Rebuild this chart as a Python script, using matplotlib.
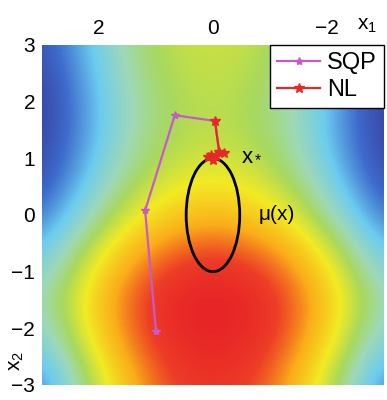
import matplotlib
matplotlib.use("Agg")
import matplotlib.pyplot as plt
from matplotlib.colors import LinearSegmentedColormap
from matplotlib.patches import Ellipse

plt.rcParams['font.family'] = ['Liberation Sans', 'DejaVu Sans']
plt.rcParams['mathtext.fontset'] = 'custom'
plt.rcParams['mathtext.rm'] = 'Liberation Sans'
plt.rcParams['mathtext.it'] = 'Liberation Sans:italic'

# background levels (rows: x2 from 3 to -3, cols: x1 from 3 to -3)
grid_x1 = [3, 2.25, 1.5, 0.75, 0, -0.75, -1.5, -2.25, -3]
grid_x2 = [3, 2.25, 1.5, 0.75, 0, -0.75, -1.5, -2.25, -3]
field = [
    [0.05, 0.25, 0.46, 0.56, 0.58, 0.56, 0.46, 0.25, 0.05],
    [0.00, 0.20, 0.42, 0.53, 0.56, 0.53, 0.42, 0.20, 0.00],
    [0.00, 0.19, 0.41, 0.52, 0.55, 0.52, 0.41, 0.19, 0.00],
    [0.03, 0.24, 0.47, 0.58, 0.62, 0.58, 0.47, 0.24, 0.03],
    [0.12, 0.38, 0.60, 0.71, 0.75, 0.71, 0.60, 0.38, 0.12],
    [0.30, 0.57, 0.77, 0.88, 0.92, 0.88, 0.77, 0.57, 0.30],
    [0.42, 0.67, 0.86, 0.97, 1.00, 0.97, 0.86, 0.67, 0.42],
    [0.33, 0.61, 0.83, 0.95, 0.98, 0.95, 0.83, 0.61, 0.33],
    [0.14, 0.48, 0.74, 0.89, 0.93, 0.89, 0.74, 0.48, 0.14],
]

# optimisation paths
sqp_x1 = [1.00, 1.19, 0.67, -0.035, -0.11]
sqp_x2 = [-2.05, 0.08, 1.76, 1.66, 1.11]
nl_x1 = [-0.035, -0.11, -0.19, -0.05, 0.04, 0.09, 0.0]
nl_x2 = [1.66, 1.11, 1.09, 1.04, 1.06, 1.02, 0.97]

# mu(x) ellipse
ell_center = (0.0, 0.0)
ell_width = 0.94
ell_height = 2.0

x1_ticks = [2, 0, -2]
x2_ticks = [3, 2, 1, 0, -1, -2, -3]

cmap = LinearSegmentedColormap.from_list("bg", [
    (0.00, (0.22, 0.25, 0.62)),
    (0.12, (0.24, 0.42, 0.80)),
    (0.28, (0.42, 0.80, 0.94)),
    (0.42, (0.62, 0.85, 0.72)),
    (0.52, (0.66, 0.85, 0.36)),
    (0.64, (0.95, 0.92, 0.14)),
    (0.78, (0.98, 0.68, 0.10)),
    (0.90, (0.93, 0.24, 0.15)),
    (1.00, (0.90, 0.12, 0.15)),
])

fig = plt.figure(figsize=(3.87, 4.0), dpi=100)
ax = fig.add_axes([0.1085, 0.0375, 0.8835, 0.85])

step = abs(grid_x1[1] - grid_x1[0]) / 2
ax.imshow(field, cmap=cmap, vmin=0, vmax=1, interpolation='bicubic', aspect='auto',
          extent=(grid_x1[0] + step, grid_x1[-1] - step, grid_x2[-1] - step, grid_x2[0] + step),
          origin='upper')

sqp, = ax.plot(sqp_x1, sqp_x2, color='#C85AC8', lw=1.6, marker='*', ms=6, label='SQP')
nl, = ax.plot(nl_x1, nl_x2, color='#E62828', lw=1.6, marker='*', ms=7, label='NL')

ax.add_patch(Ellipse(ell_center, ell_width, ell_height, fill=False, ec='black', lw=2))

ax.text(-0.50, 1.07, r'$\mathregular{x_*}$', fontsize=16, va='center', ha='left')
ax.text(-0.80, 0.0, r'μ(x)', fontsize=15, va='center', ha='left')

ax.set_xlim(3, -3)
ax.set_ylim(-3, 3)
ax.set_xticks(x1_ticks)
ax.set_yticks(x2_ticks)
ax.xaxis.tick_top()
ax.tick_params(labelsize=15, length=0, pad=5)
for s in ax.spines.values():
    s.set_visible(False)

ax.text(0.95, 1.056, r'$\mathregular{x_1}$', transform=ax.transAxes, fontsize=15,
        ha='center', va='center')
ax.text(-0.075, 0.07, r'$\mathregular{x_2}$', transform=ax.transAxes, fontsize=15,
        ha='center', va='center', rotation=90)

leg = ax.legend(handles=[sqp, nl], loc='upper right', borderaxespad=0, fontsize=17,
                fancybox=False, framealpha=1, edgecolor='black', handlelength=1.8,
                handletextpad=0.3, borderpad=0.3, labelspacing=0.2)
leg.get_frame().set_linewidth(1.0)

fig.savefig('out.png', dpi=100)
